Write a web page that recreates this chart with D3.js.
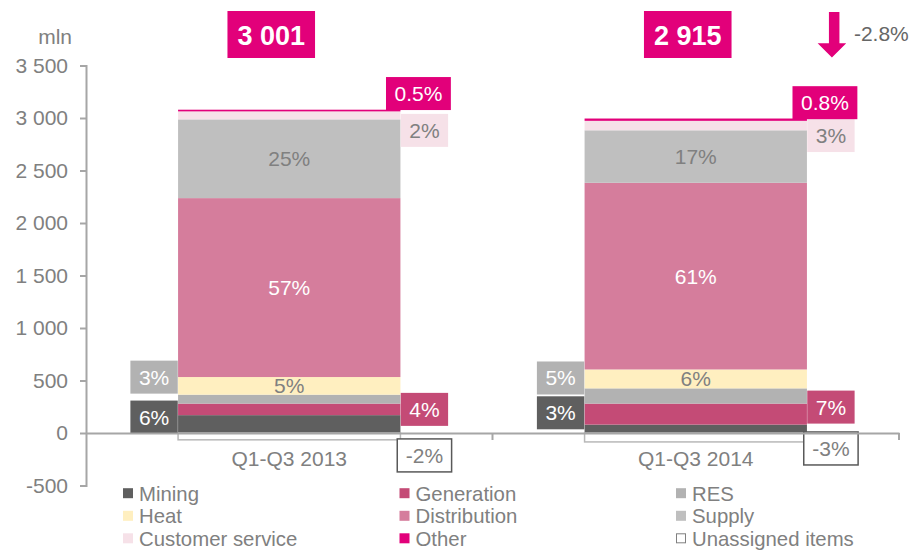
<!DOCTYPE html>
<html>
<head>
<meta charset="utf-8">
<script src="https://cdnjs.cloudflare.com/ajax/libs/d3/7.8.5/d3.min.js"></script>
<style>
  body { margin: 0; background: #fff; }
  svg { display: block; font-family: "Liberation Sans", Arial, sans-serif; }
</style>
</head>
<body>
<svg id="chart" width="913" height="550"></svg>
<script>
// data
const periods = ["Q1-Q3 2013", "Q1-Q3 2014"];
const series = ["Mining", "Generation", "RES", "Heat", "Distribution", "Supply", "Customer service", "Other", "Unassigned items"];
const values2013 = [170, 110, 85, 168, 1704, 750, 76, 16, -65];
const values2014 = [80, 200, 145, 180, 1778, 500, 90, 22, -85];
const shares2013 = ["6%", "4%", "3%", "5%", "57%", "25%", "2%", "0.5%", "-2%"];
const shares2014 = ["3%", "7%", "5%", "6%", "61%", "17%", "3%", "0.8%", "-3%"];
const totals = ["3 001", "2 915"];
const changeLabel = "-2.8%";
const yTicks = [-500, 0, 500, 1000, 1500, 2000, 2500, 3000, 3500];

// styles
const colors = ["#5f5f5f", "#c44b76", "#b2b2b2", "#ffefc0", "#d57d9c", "#bfbfbf", "#f6e1e8", "#e2007a", "#ffffff"];
const labelText = ["#fff", "#fff", "#fff", "#808080", "#fff", "#808080", "#808080", "#fff", "#808080"];
// where each share label sits: in the bar, or in a box left/right of it
const placement = ["left", "right", "left", "in", "in", "in", "right", "other", "right"];
const nudge = [[-7, 0, -22, 0, 0, 0, 15, -17, 19], [-16, -7, -18, 0, 0, 0, 10, -17, 11]];
const totalShift = [-18, -8];

const svg = d3.select("#chart");
const grey = "#808080";

const y = d3.scaleLinear().domain([-500, 3500]).range([485.5, 65.5]);
const x = d3.scaleBand().domain(periods).range([86, 899]);
const barW = x.bandwidth() * 0.547;

// y axis
const yAxis = svg.append("g")
    .attr("transform", "translate(86,0)")
    .call(d3.axisLeft(y).tickValues(yTicks).tickSize(6).tickPadding(12)
        .tickFormat(d => d3.format(",")(d).replace(/,/g, " ").replace("−", "-")));
yAxis.select(".domain").attr("stroke", "#a6a6a6").attr("stroke-width", 2);
yAxis.selectAll(".tick line").attr("stroke", "#a6a6a6").attr("stroke-width", 2);
yAxis.selectAll(".tick text").attr("fill", grey).style("font-size", "21px")
    .style("font-family", "'Liberation Sans', Arial, sans-serif");

svg.append("text").attr("x", 72).attr("y", 44).attr("text-anchor", "end")
    .attr("fill", grey).style("font-size", "21px").text("mln");

// stacked bars
const allValues = [values2013, values2014];
const allShares = [shares2013, shares2014];

periods.forEach((p, pi) => {
    const vals = allValues[pi];
    const x0 = x(p) + (x.bandwidth() - barW) / 2;
    const x1 = x0 + barW;
    const cx = x0 + barW / 2;
    let pos = 0;
    const segs = vals.map((v, i) => {
        let lo, hi;
        if (v >= 0) { lo = pos; hi = pos + v; pos = hi; }
        else { lo = v; hi = 0; }
        return { i, lo, hi };
    });
    const g = svg.append("g");
    g.selectAll("rect").data(segs).join("rect")
        .attr("x", x0)
        .attr("width", barW)
        .attr("y", d => y(d.hi))
        .attr("height", d => y(d.lo) - y(d.hi))
        .attr("fill", d => colors[d.i])
        .attr("stroke", d => d.i === 8 ? "#b8b8b8" : "none")
        .attr("stroke-width", 1.5);

    // share labels
    segs.forEach(d => {
        const txt = allShares[pi][d.i];
        const cy = y((d.lo + d.hi) / 2) + nudge[pi][d.i];
        const pl = placement[d.i];
        if (pl === "in") {
            g.append("text").attr("x", cx).attr("y", cy + 7.5)
                .attr("text-anchor", "middle").attr("fill", labelText[d.i])
                .style("font-size", "21px").text(txt);
            return;
        }
        const bx = pl === "left" ? x0 - 24 : pl === "other" ? x1 + 18 : x1 + 24;
        const lg = svg.append("g");
        const rect = lg.append("rect");
        const t = lg.append("text").attr("x", bx).attr("y", cy + 7.5)
            .attr("text-anchor", "middle").attr("fill", labelText[d.i])
            .style("font-size", "21px").text(txt);
        const w = t.node().getComputedTextLength() + 17;
        rect.attr("x", bx - w / 2).attr("y", cy - 16.5).attr("width", w).attr("height", 33)
            .attr("fill", colors[d.i])
            .attr("stroke", d.i === 8 ? "#595959" : "none").attr("stroke-width", 1.5);
    });

    // total box
    const tg = svg.append("g");
    const tr = tg.append("rect");
    const tx = cx + totalShift[pi];
    const tt = tg.append("text").attr("x", tx).attr("y", 45).attr("text-anchor", "middle")
        .attr("fill", "#fff").style("font-size", "27px").style("font-weight", "bold").text(totals[pi]);
    const tw = tt.node().getComputedTextLength() + 20;
    tr.attr("x", tx - tw / 2).attr("y", 11).attr("width", tw).attr("height", 47).attr("fill", "#e2007a");
});

// x axis
const xAxis = svg.append("g")
    .attr("transform", `translate(0,${y(0)})`)
    .call(d3.axisBottom(x).tickSize(0).tickPadding(18));
xAxis.select(".domain").attr("stroke", "#a6a6a6").attr("stroke-width", 2);
xAxis.selectAll(".tick text").attr("fill", grey).style("font-size", "21px")
    .style("font-family", "'Liberation Sans', Arial, sans-serif");
xAxis.selectAll(".edge").data(periods).join("line")
    .attr("x1", d => x(d) + x.bandwidth()).attr("x2", d => x(d) + x.bandwidth())
    .attr("y1", 0).attr("y2", 7)
    .attr("stroke", "#a6a6a6").attr("stroke-width", 2);

// change arrow
const ax = x(periods[1]) + (x.bandwidth() + barW) / 2 + 25;
svg.append("path")
    .attr("d", `M${ax - 3},12 H${ax + 7.5} V43.3 H${ax + 14.3} L${ax},57.5 L${ax - 14.3},43.3 H${ax - 3} Z`)
    .attr("fill", "#e2007a");
svg.append("text").attr("x", ax + 22).attr("y", 40.7).attr("fill", "#666666")
    .style("font-size", "21px").text(changeLabel);

// legend
const leg = svg.append("g");
const colX = [123, 399.5, 676];
const rowY = [500.7, 523.3, 545.8];
series.forEach((s, i) => {
    const lx = colX[i % 3], ly = rowY[Math.floor(i / 3)];
    leg.append("rect")
        .attr("x", i === 8 ? lx + 0.5 : lx).attr("y", i === 8 ? ly - 12 : ly - 12.5)
        .attr("width", i === 8 ? 9 : 10).attr("height", i === 8 ? 9 : 10)
        .attr("fill", colors[i])
        .attr("stroke", i === 8 ? "#808080" : "none").attr("stroke-width", 1);
    leg.append("text")
        .attr("transform", `translate(${lx + 16},${ly}) scale(0.97,1)`)
        .attr("fill", grey).style("font-size", "21px").text(s);
});
</script>
</body>
</html>
